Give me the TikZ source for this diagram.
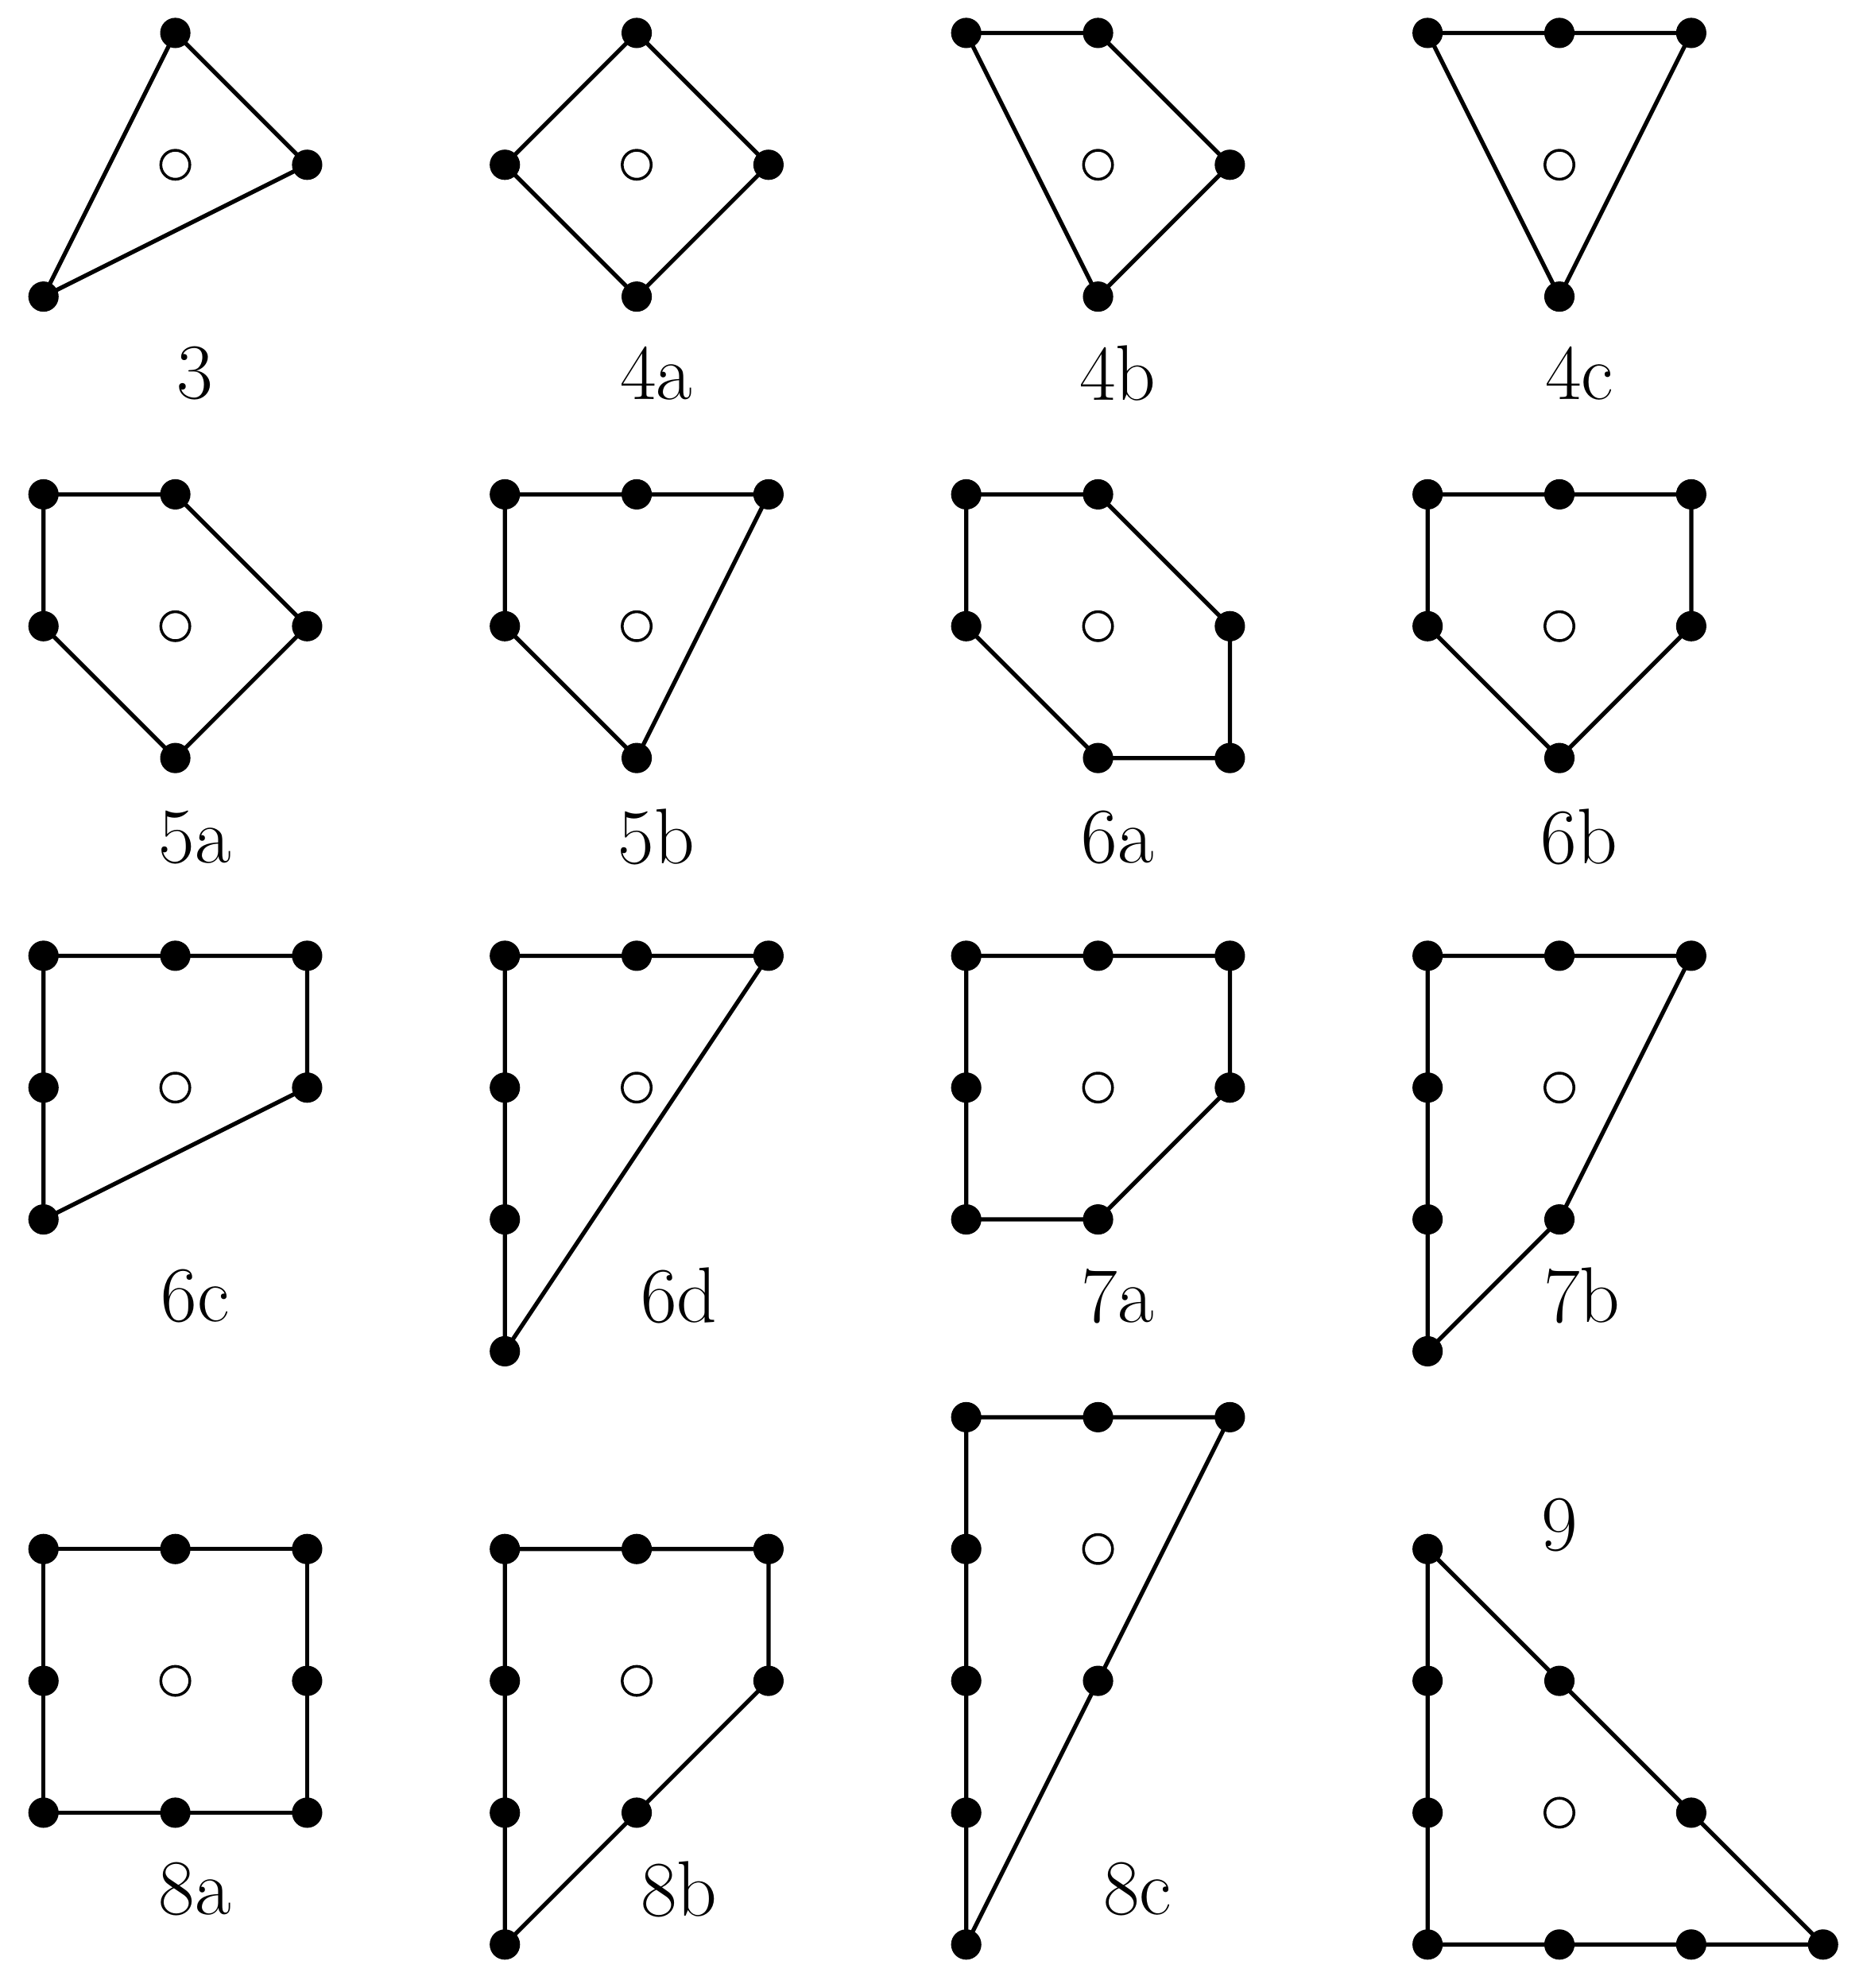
\documentclass[tikz,border=0pt]{standalone}
\begin{document}
\begin{tikzpicture}[edge/.style={line width=0.9pt,line join=round},
 lab/.style={font=\fontsize{17}{20}\selectfont}]
\useasboundingbox (-0.33,0.25) rectangle (13.8,-14.83);
\newcommand\panel[5]{\begin{scope}[shift={(#1,#2)}]
 \draw[edge] #3 -- cycle;
 \foreach \p in {#4} \fill \p circle (0.115);
 \draw[line width=0.6pt] #5 circle (0.11);
\end{scope}}
% row 1
\panel{0}{0}{(1,0)--(2,-1)--(0,-2)}{(1,0),(2,-1),(0,-2)}{(1,-1)}
\panel{3.5}{0}{(1,0)--(2,-1)--(1,-2)--(0,-1)}{(1,0),(2,-1),(1,-2),(0,-1)}{(1,-1)}
\panel{7}{0}{(0,0)--(1,0)--(2,-1)--(1,-2)}{(0,0),(1,0),(2,-1),(1,-2)}{(1,-1)}
\panel{10.5}{0}{(0,0)--(2,0)--(1,-2)}{(0,0),(1,0),(2,0),(1,-2)}{(1,-1)}
\node[lab] (l3) at (1.15,-2.58) {3};
\node[lab] (l4a) at (4.65,-2.58) {4a};
\node[lab] (l4b) at (8.15,-2.58) {4b};
\node[lab] (l4c) at (11.65,-2.58) {4c};
% row 2
\panel{0}{-3.5}{(0,0)--(1,0)--(2,-1)--(1,-2)--(0,-1)}{(0,0),(1,0),(2,-1),(1,-2),(0,-1)}{(1,-1)}
\panel{3.5}{-3.5}{(0,0)--(2,0)--(1,-2)--(0,-1)}{(0,0),(1,0),(2,0),(1,-2),(0,-1)}{(1,-1)}
\panel{7}{-3.5}{(0,0)--(1,0)--(2,-1)--(2,-2)--(1,-2)--(0,-1)}{(0,0),(1,0),(2,-1),(2,-2),(1,-2),(0,-1)}{(1,-1)}
\panel{10.5}{-3.5}{(0,0)--(2,0)--(2,-1)--(1,-2)--(0,-1)}{(0,0),(1,0),(2,0),(2,-1),(1,-2),(0,-1)}{(1,-1)}
\node[lab] (l5a) at (1.15,-6.1) {5a};
\node[lab] (l5b) at (4.65,-6.1) {5b};
\node[lab] (l6a) at (8.15,-6.1) {6a};
\node[lab] (l6b) at (11.65,-6.1) {6b};
% row 3
\panel{0}{-7}{(0,0)--(2,0)--(2,-1)--(0,-2)}{(0,0),(1,0),(2,0),(2,-1),(0,-2),(0,-1)}{(1,-1)}
\panel{3.5}{-7}{(0,0)--(2,0)--(0,-3)}{(0,0),(1,0),(2,0),(0,-3),(0,-2),(0,-1)}{(1,-1)}
\panel{7}{-7}{(0,0)--(2,0)--(2,-1)--(1,-2)--(0,-2)}{(0,0),(1,0),(2,0),(2,-1),(1,-2),(0,-2),(0,-1)}{(1,-1)}
\panel{10.5}{-7}{(0,0)--(2,0)--(1,-2)--(0,-3)}{(0,0),(1,0),(2,0),(1,-2),(0,-3),(0,-2),(0,-1)}{(1,-1)}
\node[lab] (l6c) at (1.15,-9.58) {6c};
\node[lab] (l6d) at (4.82,-9.58) {6d};
\node[lab] (l7a) at (8.15,-9.58) {7a};
\node[lab] (l7b) at (11.67,-9.58) {7b};
% row 4
\panel{0}{-11.5}{(0,0)--(2,0)--(2,-2)--(0,-2)}{(0,0),(1,0),(2,0),(2,-1),(2,-2),(1,-2),(0,-2),(0,-1)}{(1,-1)}
\panel{3.5}{-11.5}{(0,0)--(2,0)--(2,-1)--(1,-2)--(0,-3)}{(0,0),(1,0),(2,0),(2,-1),(1,-2),(0,-3),(0,-2),(0,-1)}{(1,-1)}
\panel{7}{-10.5}{(0,0)--(2,0)--(1,-2)--(0,-4)}{(0,0),(1,0),(2,0),(1,-2),(0,-4),(0,-3),(0,-2),(0,-1)}{(1,-1)}
\panel{10.5}{-11.5}{(0,0)--(3,-3)--(0,-3)}{(0,0),(1,-1),(2,-2),(3,-3),(2,-3),(1,-3),(0,-3),(0,-2),(0,-1)}{(1,-2)}
\node[lab] (l8a) at (1.15,-14.08) {8a};
\node[lab] (l8b) at (4.82,-14.08) {8b};
\node[lab] (l8c) at (8.30,-14.08) {8c};
\node[lab] (l9) at (11.5,-11.32) {9};
\end{tikzpicture}
\end{document}
